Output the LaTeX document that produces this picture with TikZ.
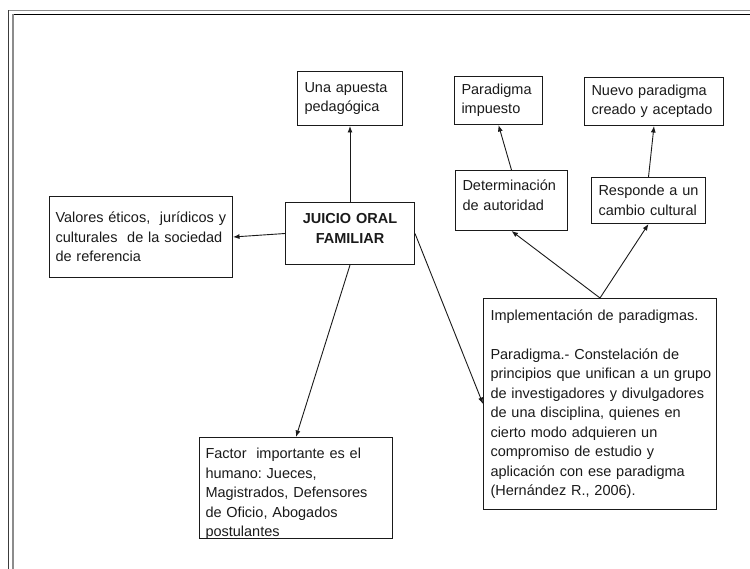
\documentclass[tikz,border=0pt]{standalone}
\usepackage{fontspec}
\setmainfont{Liberation Sans}
\usetikzlibrary{arrows.meta}
\definecolor{ink}{HTML}{1A1A1A}
\definecolor{frameA}{HTML}{3C3C3C}
\definecolor{frameB}{HTML}{8C8C8C}
\tikzset{
  box/.style={draw=ink, line width=1pt, inner xsep=7pt, inner ysep=0pt, align=left,
    anchor=north west, text=ink, font=\fontsize{14.5}{19.5}\selectfont\frenchspacing},
  conn/.style={draw=ink, line width=0.9pt, -{Latex[length=6.5pt,width=5pt]}},
}
\begin{document}
\begin{tikzpicture}[x=1pt,y=-1pt]
\useasboundingbox (0,0) rectangle (750,569);
% outer frame
\draw[frameB, line width=1.4pt] (8.5,10.3) -- (750,10.3);
\draw[frameA, line width=1.4pt] (8.5,10.3) -- (8.5,569);
\draw[black, line width=1.4pt] (13,14.3) -- (750,14.3);
\draw[frameB, line width=1.4pt] (13,14.3) -- (13,569);

\node[box, minimum width=105pt, minimum height=54pt, text width=91pt] (apuesta) at (297,71)
  {Una apuesta\\pedagógica};
\node[box, minimum width=129pt, minimum height=62pt, text width=115pt, align=center,
  font=\fontsize{14.5}{19.5}\selectfont\bfseries] (juicio) at (285,202)
  {JUICIO ORAL\\FAMILIAR\\[-9pt]\mbox{}};
\node[box, minimum width=183pt, minimum height=81pt, text width=171pt, inner xsep=6pt] (valores) at (49,196)
  {\mbox{Valores éticos,\ \ jurídicos y}\\\mbox{culturales\ \ de la sociedad}\\de referencia};
\node[box, minimum width=88pt, minimum height=48pt, text width=74pt] (impuesto) at (454,76)
  {Paradigma\\impuesto};
\node[box, minimum width=139pt, minimum height=48pt, text width=125pt] (nuevo) at (584,77)
  {Nuevo paradigma\\\mbox{creado y aceptado}};
\node[box, minimum width=112pt, minimum height=60pt, text width=98pt] (determ) at (455,170)
  {Determinación\\de autoridad\\[-9pt]\mbox{}};
\node[box, minimum width=114pt, minimum height=46pt, text width=100pt] (responde) at (591,177)
  {Responde a un\\cambio cultural};
\node[box, minimum width=233pt, minimum height=211pt, text width=219pt] (impl) at (483,298)
  {Implementación de paradigmas.\\[19.5pt]
   \mbox{Paradigma.- Constelación de}\\
   \mbox{principios que unifican a un grupo}\\
   \mbox{de investigadores y divulgadores}\\
   \mbox{de una disciplina, quienes en}\\
   \mbox{cierto modo adquieren un}\\
   \mbox{compromiso de estudio y}\\
   \mbox{aplicación con ese paradigma}\\
   (Hernández R., 2006).};
\node[box, minimum width=193pt, minimum height=101pt, text width=181pt, inner xsep=6pt] (factor) at (199,437)
  {\mbox{Factor\ \ importante es el}\\humano: Jueces,\\\mbox{Magistrados, Defensores}\\de Oficio, Abogados\\postulantes\\[-28pt]\mbox{}};

\draw[conn] (juicio.north) -- (apuesta.south);
\draw[conn] (juicio.west) -- (valores.east);
\draw[conn] (juicio.south) -- (factor.north);
\draw[conn] (juicio.east) -- (impl.west);
\draw[conn] (impl.north) -- (determ.south);
\draw[conn] (impl.north) -- (responde.south);
\draw[conn] (determ.north) -- (impuesto.south);
\draw[conn] (responde.north) -- (nuevo.south);
\end{tikzpicture}
\end{document}
